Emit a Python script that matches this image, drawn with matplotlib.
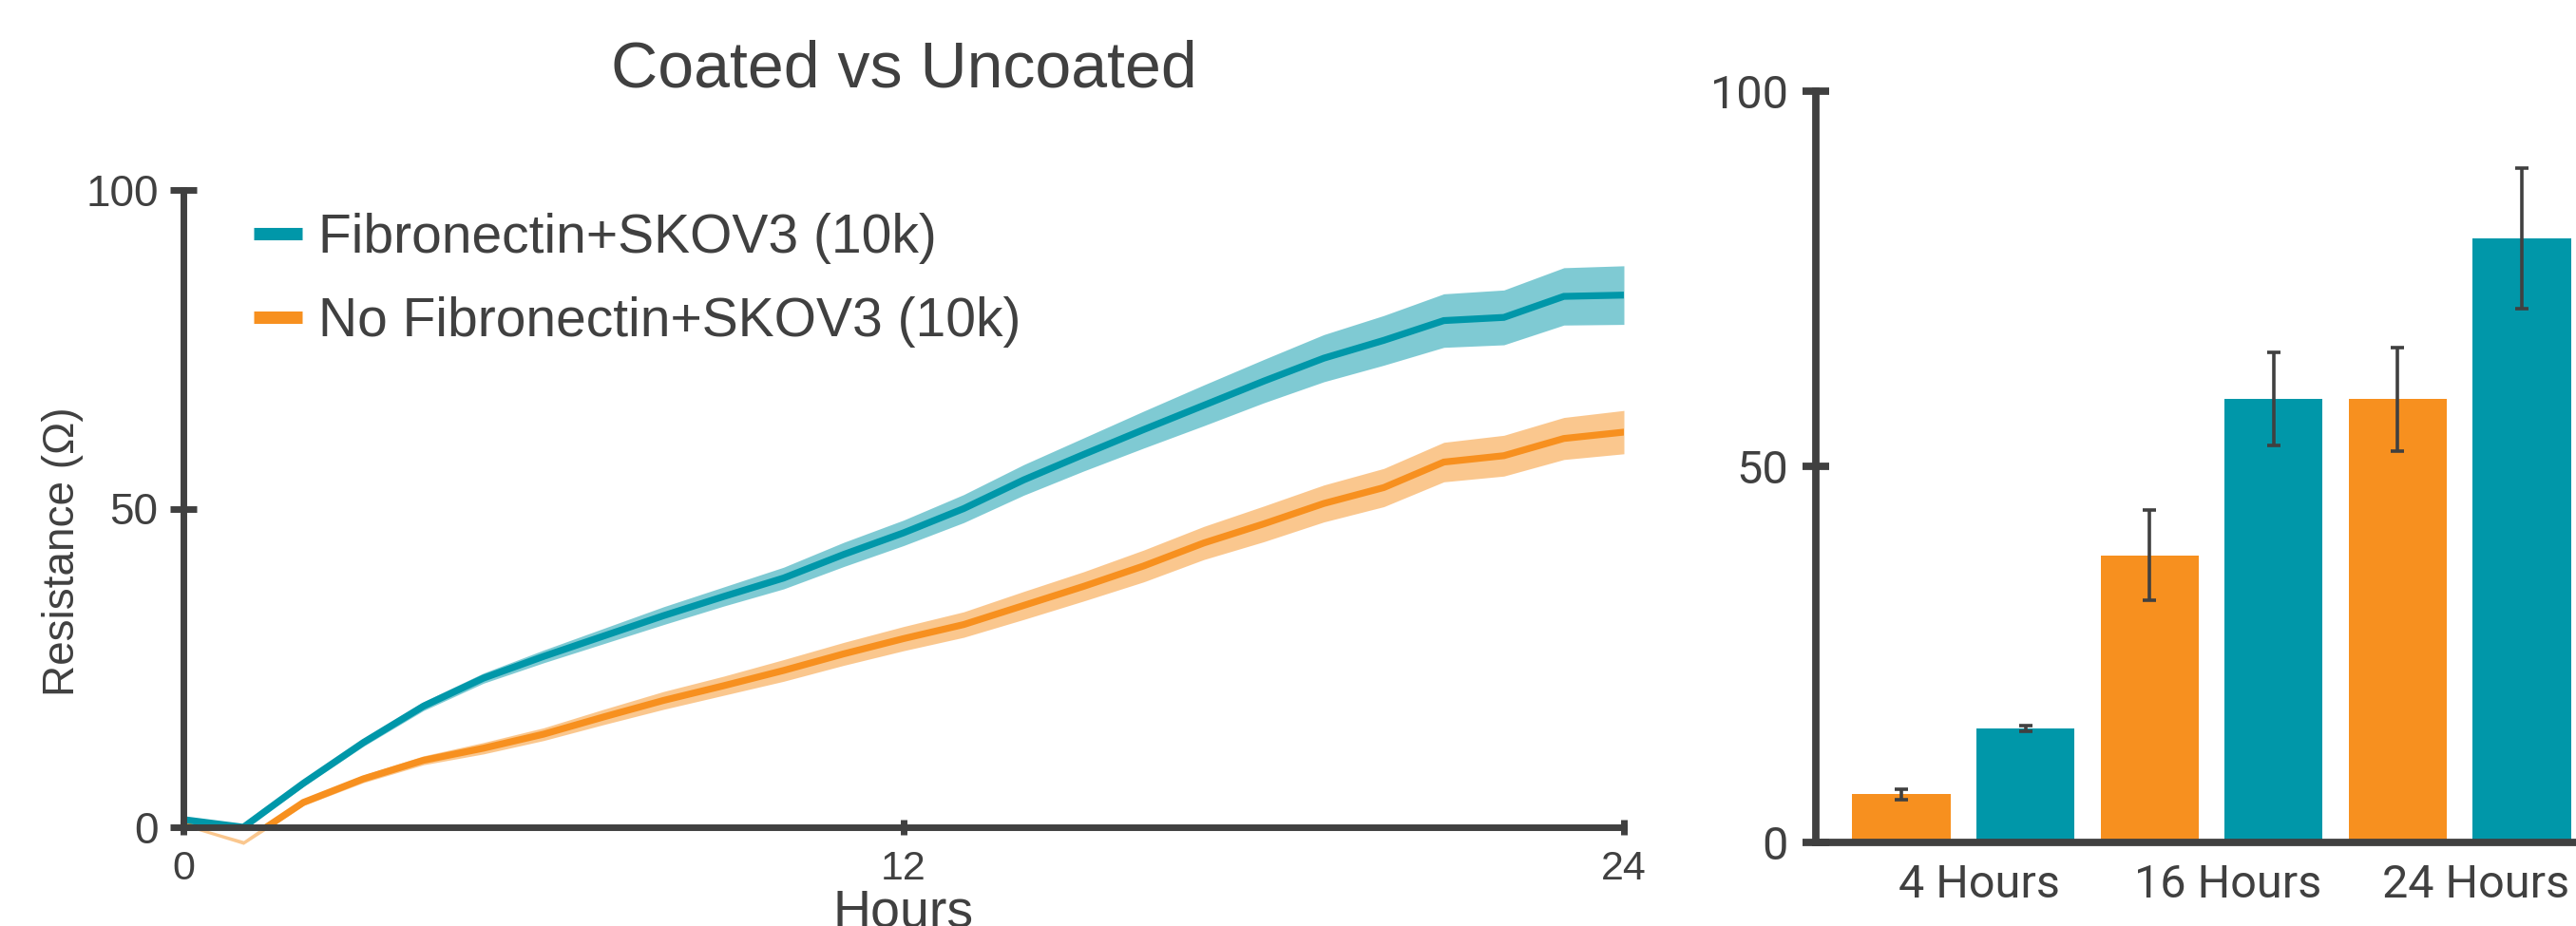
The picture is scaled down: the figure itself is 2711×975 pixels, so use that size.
import numpy as np
import matplotlib
matplotlib.use("Agg")
import matplotlib.pyplot as plt
from matplotlib.lines import Line2D
from matplotlib.transforms import ScaledTranslation

# ---- time course (hourly readings) ----
hours = list(range(25))
coated_mean = [1.2, 0.0, 6.9, 13.3, 19.0, 23.4, 26.8, 30.0, 33.2, 36.2, 39.1, 42.8, 46.2,
               50.0, 54.5, 58.5, 62.4, 66.2, 70.0, 73.6, 76.4, 79.5, 80.0, 83.3, 83.5]
coated_sd = [0.3, 0.3, 0.5, 0.6, 0.7, 0.8, 1.0, 1.2, 1.4, 1.5, 1.7, 1.9, 2.0,
             2.2, 2.4, 2.6, 2.9, 3.2, 3.4, 3.7, 3.9, 4.2, 4.3, 4.5, 4.6]
uncoated_mean = [0.4, -2.4, 3.9, 7.6, 10.5, 12.4, 14.6, 17.3, 19.9, 22.2, 24.6, 27.2, 29.6,
                 31.8, 34.8, 37.8, 41.0, 44.6, 47.6, 50.8, 53.3, 57.3, 58.3, 61.0, 62.0]
uncoated_sd = [0.2, 0.3, 0.5, 0.6, 0.7, 0.9, 1.0, 1.2, 1.4, 1.5, 1.7, 1.8, 1.9,
               2.0, 2.2, 2.3, 2.5, 2.6, 2.8, 2.9, 3.0, 3.1, 3.2, 3.3, 3.4]
series_labels = ["Fibronectin+SKOV3 (10k)", "No Fibronectin+SKOV3 (10k)"]
hour_ticks = [0, 12, 24]
resistance_ticks = [0, 50, 100]

# ---- snapshot bars ----
bar_groups = ["4 Hours", "16 Hours", "24 Hours"]
bar_uncoated = [6.4, 38.2, 59.0]
bar_uncoated_err = [0.7, 6.0, 6.9]
bar_coated = [15.2, 59.0, 80.4]
bar_coated_err = [0.4, 6.2, 9.3]

TEAL = "#0097A9"
ORANGE = "#F7901F"
INK = "#404040"

plt.rcParams["font.family"] = ["Liberation Sans", "DejaVu Sans"]
plt.rcParams["text.color"] = INK

W, H = 2711, 975
fig = plt.figure(figsize=(W / 100, H / 100), dpi=100)


def px_axes(left, top, right, bottom):
    return fig.add_axes([left / W, 1 - bottom / H, (right - left) / W, (bottom - top) / H])


# ---------------- line chart ----------------
ax = px_axes(193, 200, 1709, 871)
for mean, sd, col in ((uncoated_mean, uncoated_sd, ORANGE), (coated_mean, coated_sd, TEAL)):
    m = np.asarray(mean)
    s = np.asarray(sd)
    ax.fill_between(hours, m - s, m + s, color=col, alpha=0.5, lw=0, clip_on=False)
    ax.plot(hours, m, color=col, lw=5.2, solid_joinstyle="miter")

ax.set_xlim(0, 24)
ax.set_ylim(0, 100)
ax.set_xticks(hour_ticks)
ax.set_yticks(resistance_ticks)
for side in ("top", "right"):
    ax.spines[side].set_visible(False)
for side in ("left", "bottom"):
    ax.spines[side].set_linewidth(5)
    ax.spines[side].set_color(INK)
ax.tick_params(axis="y", direction="inout", length=20, width=5, color=INK,
               pad=9.0, labelsize=33, labelcolor=INK)
ax.tick_params(axis="x", direction="inout", length=12, width=5, color=INK,
               pad=11, labelsize=31, labelcolor=INK)

ax.set_ylabel("Resistance (Ω)", fontsize=33, color=INK, va="center")
ax.yaxis.set_label_coords(-0.084, 0.432)
ax.set_xlabel("Hours", fontsize=40, color=INK, va="top")
ax.xaxis.set_label_coords(0.5, (871 - 936) / 671)

fig.text(951 / W, 1 - 91 / H, "Coated vs Uncoated", fontsize=49, color=INK,
         ha="center", va="baseline")

handles = [Line2D([], [], color=TEAL, lw=9.4, solid_capstyle="butt"),
           Line2D([], [], color=ORANGE, lw=9.4, solid_capstyle="butt")]
ax.legend(handles, series_labels, loc="upper left",
          bbox_to_anchor=(267 / W, 1 - 224 / H), bbox_transform=fig.transFigure,
          frameon=False, fontsize=41, handlelength=0.9, handletextpad=0.3,
          labelspacing=0.6, borderpad=0, borderaxespad=0, labelcolor=INK)

# ---------------- bar chart ----------------
ax2 = px_axes(1911, 96, 2744, 887)
n = len(bar_groups)
x_unc = np.arange(n) * 2
x_coat = x_unc + 1
bw = 0.79
ax2.bar(x_unc, bar_uncoated, width=bw, color=ORANGE, zorder=2)
ax2.bar(x_coat, bar_coated, width=bw, color=TEAL, zorder=2)
err_style = dict(fmt="none", ecolor=INK, elinewidth=2.6, capsize=4.8, capthick=2.6, zorder=3)
ax2.errorbar(x_unc, bar_uncoated, yerr=bar_uncoated_err, **err_style)
ax2.errorbar(x_coat, bar_coated, yerr=bar_coated_err, **err_style)

ax2.set_xlim(-0.689, 5.689)
ax2.set_ylim(0, 100)
ax2.set_yticks(resistance_ticks)
ax2.set_xticks(x_unc + 0.5)
ax2.set_xticklabels(bar_groups)
for side in ("top", "right"):
    ax2.spines[side].set_visible(False)
for side in ("left", "bottom"):
    ax2.spines[side].set_linewidth(5.6)
    ax2.spines[side].set_color(INK)
ax2.tick_params(axis="y", direction="inout", length=20, width=5.6, color=INK,
                pad=10.8, labelsize=35, labelcolor=INK, labelfontfamily="Roboto")
ax2.tick_params(axis="x", length=0, pad=16, labelsize=35, labelcolor=INK,
                labelfontfamily="Roboto")
shift = ScaledTranslation(17 / 100, 0, fig.dpi_scale_trans)
for lbl in ax2.get_xticklabels():
    lbl.set_transform(lbl.get_transform() + shift)

fig.savefig("out.png", dpi=100, facecolor="white")
